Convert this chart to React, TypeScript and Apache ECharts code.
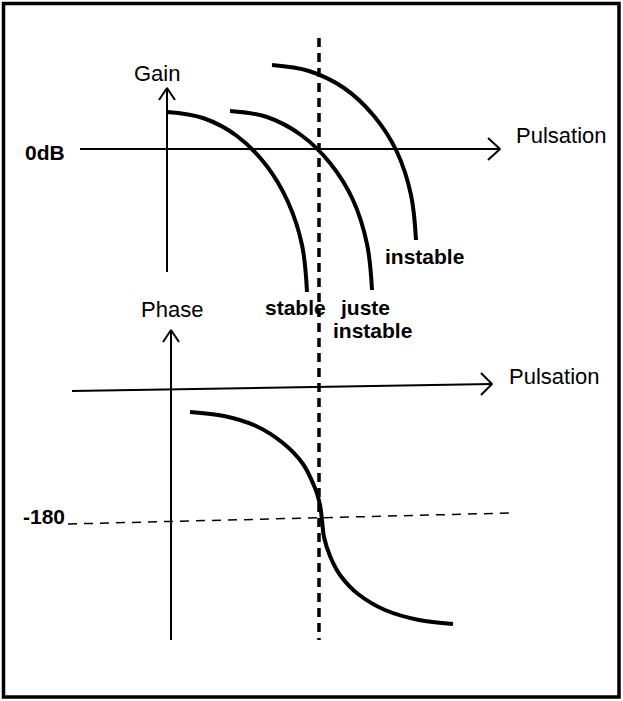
import React, { useEffect, useRef } from "react";
import * as echarts from "echarts";

// Diagram coordinates (x: pulsation direction, y: downward position on the sheet)
const gainAxis = [[167, 272], [167, 88]];
const gainArrow = [[159, 100], [167, 88], [175, 100]];
const zeroDbAxis = [[80, 149], [500, 149]];
const zeroDbArrow = [[488, 138], [500, 149], [488, 160]];
const phaseAxis = [[171, 640], [171, 330]];
const phaseArrow = [[163, 342], [171, 330], [179, 342]];
const phaseZeroAxis = [[72, 391], [492, 384]];
const phaseZeroArrow = [[481, 373], [492, 384], [481, 395]];
const criticalLine = [[319, 38], [319, 640]];
const minus180Line = [[68, 524], [511, 513]];

const gainStable = [
  [167, 112], [203, 118], [237, 136], [266, 165],
  [288, 202], [302, 245], [307, 292],
];
const gainJuste = [
  [230, 111], [267, 117], [301, 135], [330, 163],
  [353, 200], [367, 244], [372, 290],
];
const gainInstable = [
  [272, 65], [309, 71], [344, 88], [374, 116],
  [397, 152], [411, 195], [416, 240],
];
const phaseCurve = [
  [190, 412], [224, 416], [256, 426], [283, 443], [303, 464],
  [315, 488], [320, 505], [322, 520], [324, 537], [330, 556],
  [340, 575], [358, 594], [385, 610], [419, 620], [453, 624],
];

const labels = [
  { text: "Gain", x: 134, y: 73, bold: false },
  { text: "0dB", x: 25, y: 152, bold: true },
  { text: "Pulsation", x: 516, y: 135, bold: false },
  { text: "instable", x: 385, y: 256, bold: true },
  { text: "stable", x: 265, y: 307, bold: true },
  { text: "juste", x: 341, y: 307, bold: true },
  { text: "instable", x: 333, y: 330, bold: true },
  { text: "Phase", x: 141, y: 309, bold: false },
  { text: "Pulsation", x: 509, y: 376, bold: false },
  { text: "-180", x: 23, y: 516, bold: true },
];

function seg(data: number[][], width: number, extra: any = {}) {
  return {
    type: "line",
    data,
    symbol: "none",
    silent: true,
    animation: false,
    lineStyle: { color: "#000", width, ...(extra.lineStyle || {}) },
    smooth: extra.smooth || false,
    z: extra.z || 2,
  };
}

export default function App() {
  const ref = useRef<HTMLDivElement>(null);
  useEffect(() => {
    if (!ref.current) return;
    const chart = echarts.init(ref.current, null, { renderer: "svg" });
    chart.setOption({
      animation: false,
      backgroundColor: "#ffffff",
      grid: { left: 0, top: 0, right: 0, bottom: 0 },
      xAxis: { type: "value", min: 0, max: 623, show: false },
      yAxis: { type: "value", min: 0, max: 701, inverse: true, show: false },
      series: [
        seg(gainAxis, 2),
        seg(gainArrow, 2),
        seg(zeroDbAxis, 2),
        seg(zeroDbArrow, 2),
        seg(phaseAxis, 2),
        seg(phaseArrow, 2),
        seg(phaseZeroAxis, 2),
        seg(phaseZeroArrow, 2),
        seg(criticalLine, 3.5, { lineStyle: { type: [9, 6] }, z: 3 }),
        seg(minus180Line, 1.5, { lineStyle: { type: [9, 7] } }),
        seg(gainStable, 4, { smooth: 0.35 }),
        seg(gainJuste, 4, { smooth: 0.35 }),
        seg(gainInstable, 4, { smooth: 0.35 }),
        seg(phaseCurve, 4, { smooth: 0.3 }),
      ],
      graphic: [
        {
          type: "rect",
          shape: { x: 3.5, y: 3.5, width: 615.5, height: 693.5 },
          style: { fill: "none", stroke: "#000", lineWidth: 3.5 },
          z: 10,
        },
        ...labels.map((l) => ({
          type: "text",
          x: l.x,
          y: l.y,
          z: 10,
          style: {
            text: l.text,
            fill: "#000",
            font: l.bold
              ? `bold 21px "Liberation Sans", Arial, sans-serif`
              : `22px "Liberation Sans", Arial, sans-serif`,
            verticalAlign: "middle",
          },
        })),
      ],
    });
    return () => chart.dispose();
  }, []);
  return (
    <div
      ref={ref}
      style={{ position: "fixed", left: 0, top: 0, width: 623, height: 701 }}
    />
  );
}
